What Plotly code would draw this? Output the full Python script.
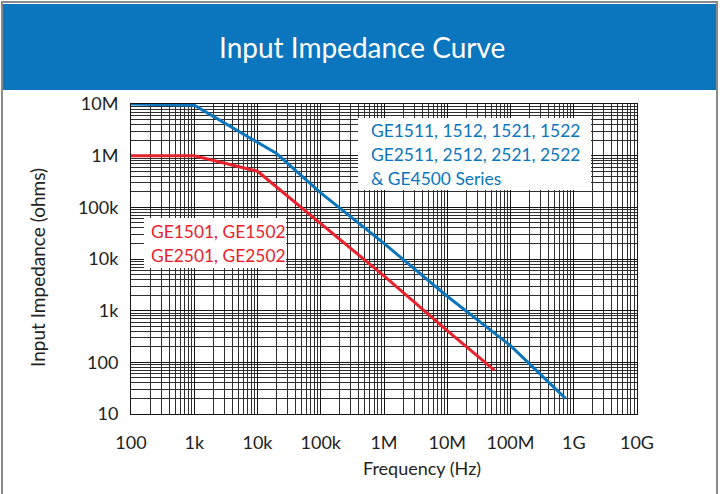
import plotly.graph_objects as go

# ---- data ----
blue_freq = [100, 1e3, 2e4, 1e5, 1e6, 1e7, 1e8, 7.4e8]
blue_imp = [1e7, 9.5e6, 1.1e6, 1.9e5, 2.0e4, 1.9e3, 2.1e2, 20]

red_freq = [100, 1e3, 1e4, 1e5, 1e6, 1e7, 5.6e7]
red_imp = [1e6, 1e6, 5.0e5, 4.9e4, 4.7e3, 4.1e2, 70]

x_tickvals = [1e2, 1e3, 1e4, 1e5, 1e6, 1e7, 1e8, 1e9, 1e10]
x_ticktext = ["100", "1k", "10k", "100k", "1M", "10M", "100M", "1G", "10G"]
y_tickvals = [10, 100, 1e3, 1e4, 1e5, 1e6, 1e7]
y_ticktext = ["10", "100", "1k", "10k", "100k", "1M", "10M"]

blue_label = ["GE1511, 1512, 1521, 1522", "GE2511, 2512, 2521, 2522", "& GE4500 Series"]
red_label = ["GE1501, GE1502", "GE2501, GE2502"]

BLUE = "#0b76bd"
RED = "#e8222d"
FONT = "Lato"
TXT = "#231f20"

W, H = 720, 494
L, R, T, B = 131, 83, 104, 80
PW, PH = W - L - R, H - T - B


def px(x):
    return (x - L) / PW


def py(y):
    return (H - B - y) / PH


fig = go.Figure()
fig.add_trace(go.Scatter(x=blue_freq, y=blue_imp, mode="lines",
                         line=dict(color=BLUE, width=3), showlegend=False, hoverinfo="skip"))
fig.add_trace(go.Scatter(x=red_freq, y=red_imp, mode="lines",
                         line=dict(color=RED, width=3), showlegend=False, hoverinfo="skip"))

grid_major = "#141414"
grid_minor = "#2e2e2e"

fig.update_xaxes(type="log", range=[2, 10], tickmode="array",
                 tickvals=x_tickvals, ticktext=x_ticktext,
                 showgrid=True, gridcolor=grid_major, gridwidth=1.4,
                 minor=dict(dtick="D1", showgrid=True, gridcolor=grid_minor, gridwidth=1.1),
                 showline=True, mirror=True, linecolor=grid_major, linewidth=1,
                 ticks="outside", ticklen=12, tickcolor="rgba(0,0,0,0)",
                 tickfont=dict(family=FONT, size=18, color=TXT), zeroline=False)
fig.update_yaxes(type="log", range=[1, 7], tickmode="array",
                 tickvals=y_tickvals, ticktext=y_ticktext,
                 showgrid=True, gridcolor=grid_major, gridwidth=1.4,
                 minor=dict(dtick="D1", showgrid=True, gridcolor=grid_minor, gridwidth=1.1),
                 showline=True, mirror=True, linecolor=grid_major, linewidth=1,
                 ticks="outside", ticklen=8, tickcolor="rgba(0,0,0,0)",
                 tickfont=dict(family=FONT, size=18, color=TXT), zeroline=False)

shapes = [
    # outer grey frame
    dict(type="rect", xref="paper", yref="paper", x0=px(2), x1=px(717), y0=py(520), y1=py(2),
         line=dict(color="#8a8a8a", width=2), fillcolor="rgba(0,0,0,0)", layer="below"),
    # title bar
    dict(type="rect", xref="paper", yref="paper", x0=px(3), x1=px(716), y0=py(90), y1=py(4),
         line=dict(width=0), fillcolor=BLUE, layer="below"),
    # label boxes
    dict(type="rect", xref="paper", yref="paper", x0=px(358), x1=px(591), y0=py(190), y1=py(118),
         line=dict(width=0), fillcolor="white", layer="above"),
    dict(type="rect", xref="paper", yref="paper", x0=px(144), x1=px(286), y0=py(268), y1=py(218),
         line=dict(width=0), fillcolor="white", layer="above"),
]

annotations = [
    dict(text="Input Impedance Curve", x=px(362), y=py(47), xref="paper", yref="paper",
         showarrow=False, xanchor="center", yanchor="middle",
         font=dict(family=FONT, size=28, color="white")),
    dict(text="Input Impedance (ohms)", x=px(37), y=py(268), xref="paper", yref="paper",
         showarrow=False, textangle=-90, xanchor="center", yanchor="middle",
         font=dict(family=FONT, size=19, color=TXT)),
    dict(text="Frequency (Hz)", x=px(422), y=py(468), xref="paper", yref="paper",
         showarrow=False, xanchor="center", yanchor="middle",
         font=dict(family=FONT, size=18, color=TXT)),
]
for i, t in enumerate(blue_label):
    annotations.append(dict(text=t, x=px(369), y=py(130 + i * 24), xref="paper", yref="paper",
                            showarrow=False, xanchor="left", yanchor="middle",
                            font=dict(family=FONT, size=17.4, color=BLUE)))
for i, t in enumerate(red_label):
    annotations.append(dict(text=t, x=px(149), y=py(231 + i * 24), xref="paper", yref="paper",
                            showarrow=False, xanchor="left", yanchor="middle",
                            font=dict(family=FONT, size=17.4, color=RED)))

fig.update_layout(width=W, height=H, margin=dict(l=L, r=R, t=T, b=B),
                  paper_bgcolor="white", plot_bgcolor="white", hovermode=False,
                  shapes=shapes, annotations=annotations, showlegend=False)

fig.write_html("out.html", config={"displayModeBar": False},
               post_script="document.body.style.margin='0px';document.body.style.overflow='hidden';")
